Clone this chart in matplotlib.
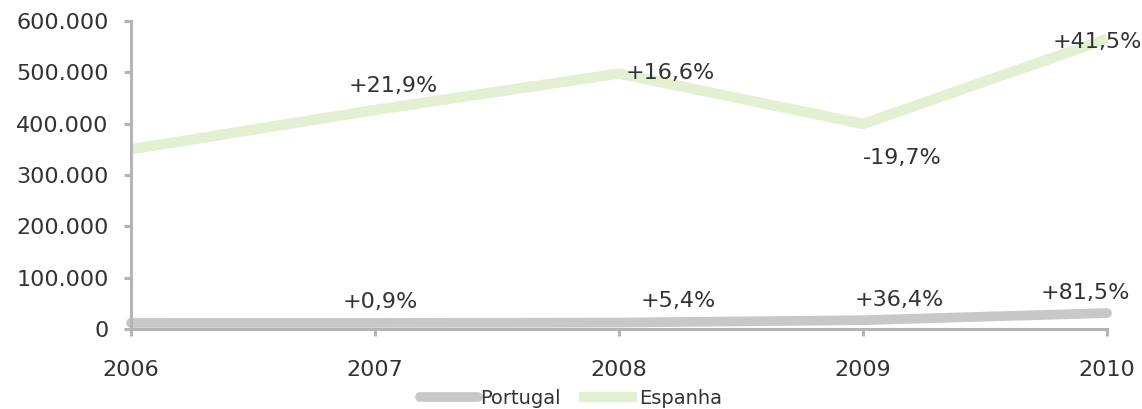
import matplotlib.pyplot as plt
from matplotlib.ticker import FuncFormatter

years = [2006, 2007, 2008, 2009, 2010]
portugal = [11800, 11900, 12550, 17120, 31070]
espanha = [350000, 426700, 497500, 399500, 565300]
portugal_growth = ['+0,9%', '+5,4%', '+36,4%', '+81,5%']
espanha_growth = ['+21,9%', '+16,6%', '-19,7%', '+41,5%']

c_pt = '#c8c8c8'
c_es = '#e3f0d2'
c_axis = '#b5b5b5'
c_text = '#333333'

plt.rcParams['font.family'] = ['DejaVu Sans']

fig = plt.figure(figsize=(11.42, 4.09), dpi=100)
ax = fig.add_axes([0.1147, 0.1956, 0.8547, 0.7531])

ax.plot(years, portugal, color=c_pt, lw=7, solid_capstyle='round',
        solid_joinstyle='round', clip_on=False, label='Portugal', zorder=3)
ax.plot(years, espanha, color=c_es, lw=7.5, solid_capstyle='butt',
        solid_joinstyle='miter', clip_on=False, label='Espanha', zorder=3)

# label offsets in pixels (dx, dy) from each point
es_off = [(18, 24), (51, 1), (39, -34), (-10, -3)]
pt_off = [(5, 21), (59, 22), (36, 20), (-22, 20)]
for i in range(4):
    x = years[i + 1]
    dx, dy = es_off[i]
    ax.annotate(espanha_growth[i], (x, espanha[i + 1]),
                xytext=(dx * 0.72, dy * 0.72), textcoords='offset points',
                ha='center', va='center', fontsize=16, color=c_text, zorder=5)
    dx, dy = pt_off[i]
    ax.annotate(portugal_growth[i], (x, portugal[i + 1]),
                xytext=(dx * 0.72, dy * 0.72), textcoords='offset points',
                ha='center', va='center', fontsize=16, color=c_text, zorder=5)

ax.set_xlim(2006, 2010)
ax.set_ylim(0, 600000)
ax.set_xticks(years)
ax.set_yticks(range(0, 600001, 100000))
ax.yaxis.set_major_formatter(FuncFormatter(lambda v, p: f'{int(v):,}'.replace(',', '.')))

for s in ['top', 'right']:
    ax.spines[s].set_visible(False)
for s in ['left', 'bottom']:
    ax.spines[s].set_color(c_axis)
    ax.spines[s].set_linewidth(2.2)
    ax.spines[s].set_zorder(4)
ax.tick_params(axis='x', length=5, width=2.2, color=c_axis, pad=17,
               labelsize=16, labelcolor=c_text)
ax.tick_params(axis='y', length=5, width=2.2, color=c_axis, pad=11,
               labelsize=16, labelcolor=c_text)

fig.legend(loc='center', bbox_to_anchor=(0.5, 0.025), ncol=2, frameon=False,
           fontsize=14, handlelength=3, handletextpad=0.1, columnspacing=0.9,
           labelcolor=c_text)

fig.savefig('out.png', dpi=100)
